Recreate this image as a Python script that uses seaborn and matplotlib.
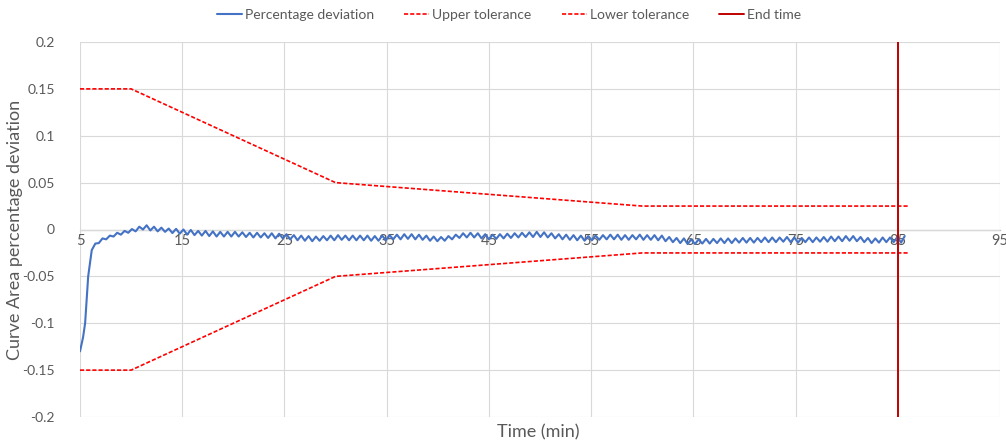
import numpy as np
import pandas as pd
import matplotlib
matplotlib.use("Agg")
import matplotlib.pyplot as plt
import seaborn as sns

# ─────────────────────────────────────────────
# DATA
# ─────────────────────────────────────────────
# start-up transient, minutes / deviation
HEAD_TIME = [5.0, 5.3, 5.5, 5.8, 6.15, 6.5]
HEAD_DEV = [-0.13, -0.115, -0.10, -0.05, -0.022, -0.015]

# after start-up the logger samples every 0.36 min (peaks / troughs of the ripple)
OSC_START = 6.84
OSC_STEP = 0.36
OSC_DEV = [
    -0.0145, -0.0095, -0.0105, -0.0065, -0.0075, -0.0035, -0.0055, -0.0015, -0.0035, 0.0005,
    -0.002, 0.003, 0.000, 0.0045, -0.001, 0.003, -0.002, 0.002, -0.0025, 0.001,
    -0.0038, 0.0007, -0.0045, 0.0000, -0.0055, -0.0005, -0.006, -0.0015, -0.0065, -0.0015,
    -0.007, -0.002, -0.0075, -0.0025, -0.0075, -0.0025, -0.0075, -0.0025, -0.0075, -0.003,
    -0.008, -0.0035, -0.0085, -0.0035, -0.0085, -0.004, -0.009, -0.004, -0.0095, -0.0045,
    -0.0095, -0.005, -0.0105, -0.006, -0.0115, -0.0065, -0.012, -0.007, -0.0125, -0.0075,
    -0.012, -0.007, -0.0115, -0.0065, -0.0115, -0.006, -0.011, -0.0065, -0.0115, -0.0065,
    -0.0115, -0.0065, -0.0115, -0.0065, -0.012, -0.007, -0.012, -0.0065, -0.0115, -0.006,
    -0.0105, -0.0055, -0.0105, -0.005, -0.010, -0.005, -0.0105, -0.0055, -0.011, -0.0065,
    -0.012, -0.0075, -0.0125, -0.008, -0.012, -0.007, -0.0105, -0.0055, -0.009, -0.004,
    -0.0085, -0.0035, -0.0085, -0.004, -0.0095, -0.005, -0.0105, -0.0055, -0.010, -0.005,
    -0.0095, -0.0045, -0.009, -0.004, -0.0085, -0.0035, -0.008, -0.003, -0.008, -0.0025,
    -0.008, -0.003, -0.0085, -0.004, -0.0095, -0.005, -0.0105, -0.0055, -0.011, -0.006,
    -0.0115, -0.0065, -0.012, -0.007, -0.0115, -0.0065, -0.011, -0.006, -0.0105, -0.0055,
    -0.0105, -0.0055, -0.011, -0.006, -0.011, -0.006, -0.0105, -0.0055, -0.011, -0.006,
    -0.011, -0.006, -0.0115, -0.0065, -0.0125, -0.008, -0.0135, -0.009, -0.0145, -0.0095,
    -0.0155, -0.0105, -0.0155, -0.0105, -0.015, -0.010, -0.015, -0.010, -0.0145, -0.0095,
    -0.0145, -0.0095, -0.0145, -0.0095, -0.014, -0.009, -0.014, -0.009, -0.014, -0.009,
    -0.0135, -0.0085, -0.0135, -0.0085, -0.0135, -0.0085, -0.013, -0.008, -0.0135, -0.0085,
    -0.014, -0.009, -0.0135, -0.0085, -0.0135, -0.0085, -0.013, -0.008, -0.013, -0.0075,
    -0.0125, -0.0075, -0.0125, -0.007, -0.012, -0.007, -0.0125, -0.008, -0.0135, -0.009,
    -0.0145, -0.0095, -0.014, -0.0085, -0.0135, -0.0085, -0.0135, -0.008, -0.014, -0.007,
]

TOL_TIME = [5, 10, 30, 60, 86]
UPPER_TOL = [0.15, 0.15, 0.05, 0.025, 0.025]
LOWER_TOL = [-0.15, -0.15, -0.05, -0.025, -0.025]

END_TIME = 85

X_TICKS = [5, 15, 25, 35, 45, 55, 65, 75, 85, 95]
Y_TICKS = [-0.2, -0.15, -0.1, -0.05, 0, 0.05, 0.1, 0.15, 0.2]
Y_TICK_LABELS = ["-0.2", "-0.15", "-0.1", "-0.05", "0", "0.05", "0.1", "0.15", "0.2"]

# ─────────────────────────────────────────────
# FRAMES
# ─────────────────────────────────────────────
osc_time = OSC_START + OSC_STEP * np.arange(len(OSC_DEV))
dev_df = pd.DataFrame({
    "time": np.concatenate([HEAD_TIME, osc_time]),
    "dev": np.concatenate([HEAD_DEV, OSC_DEV]),
})
tol_df = pd.DataFrame({"time": TOL_TIME, "upper": UPPER_TOL, "lower": LOWER_TOL})

# ─────────────────────────────────────────────
# PLOT
# ─────────────────────────────────────────────
sns.set_theme(style="white")
plt.rcParams["font.family"] = ["Lato", "DejaVu Sans"]

GREY = "#595959"
GRID = "#d9d9d9"

fig = plt.figure(figsize=(10.06, 4.47), dpi=100)
ax = fig.add_axes([80 / 1006, 1 - 417 / 447, 920 / 1006, 375 / 447])

sns.lineplot(data=dev_df, x="time", y="dev", ax=ax, color="#4472C4",
             linewidth=1.5, label="Percentage deviation", sort=False)
sns.lineplot(data=tol_df, x="time", y="upper", ax=ax, color="#FF0000",
             linewidth=1.2, dashes=False, label="Upper tolerance")
sns.lineplot(data=tol_df, x="time", y="lower", ax=ax, color="#FF0000",
             linewidth=1.2, dashes=False, label="Lower tolerance")
ax.lines[1].set_dashes([2.5, 1.2])
ax.lines[2].set_dashes([2.5, 1.2])
ax.axvline(END_TIME, color="#C00000", linewidth=1.4, label="End time")

ax.set_xlim(5, 95)
ax.set_ylim(-0.2, 0.2)
ax.set_xticks(X_TICKS)
ax.set_yticks(Y_TICKS)
ax.set_yticklabels(Y_TICK_LABELS)
ax.grid(True, color=GRID, linewidth=0.8)
ax.set_axisbelow(True)

for side in ["top", "right", "left"]:
    ax.spines[side].set_visible(False)
ax.spines["bottom"].set_position(("data", 0))
ax.spines["bottom"].set_color("#bfbfbf")
ax.spines["bottom"].set_linewidth(0.9)
ax.spines["bottom"].set_zorder(0.5)

ax.tick_params(axis="x", length=0, pad=3, labelsize=10.5, labelcolor=GREY)
ax.tick_params(axis="y", length=0, pad=18, labelsize=10, labelcolor=GREY)

ax.set_xlabel("")
ax.set_ylabel("Curve Area percentage deviation", fontsize=13, color=GREY)
ax.yaxis.set_label_coords(-57 / 920, 0.5)
fig.text(538 / 1006, 1 - 432 / 447, "Time (min)", ha="center", va="center",
         fontsize=13, color=GREY)

handles, labels = ax.get_legend_handles_labels()
ax.get_legend().remove()
fig.legend(handles, labels, loc="center", bbox_to_anchor=(509 / 1006, 1 - 15 / 447), ncol=4,
           frameon=False, fontsize=10, labelcolor=GREY, handlelength=1.8,
           handletextpad=0.2, columnspacing=2.2)

plt.savefig("out.png", dpi=100)
plt.close()
